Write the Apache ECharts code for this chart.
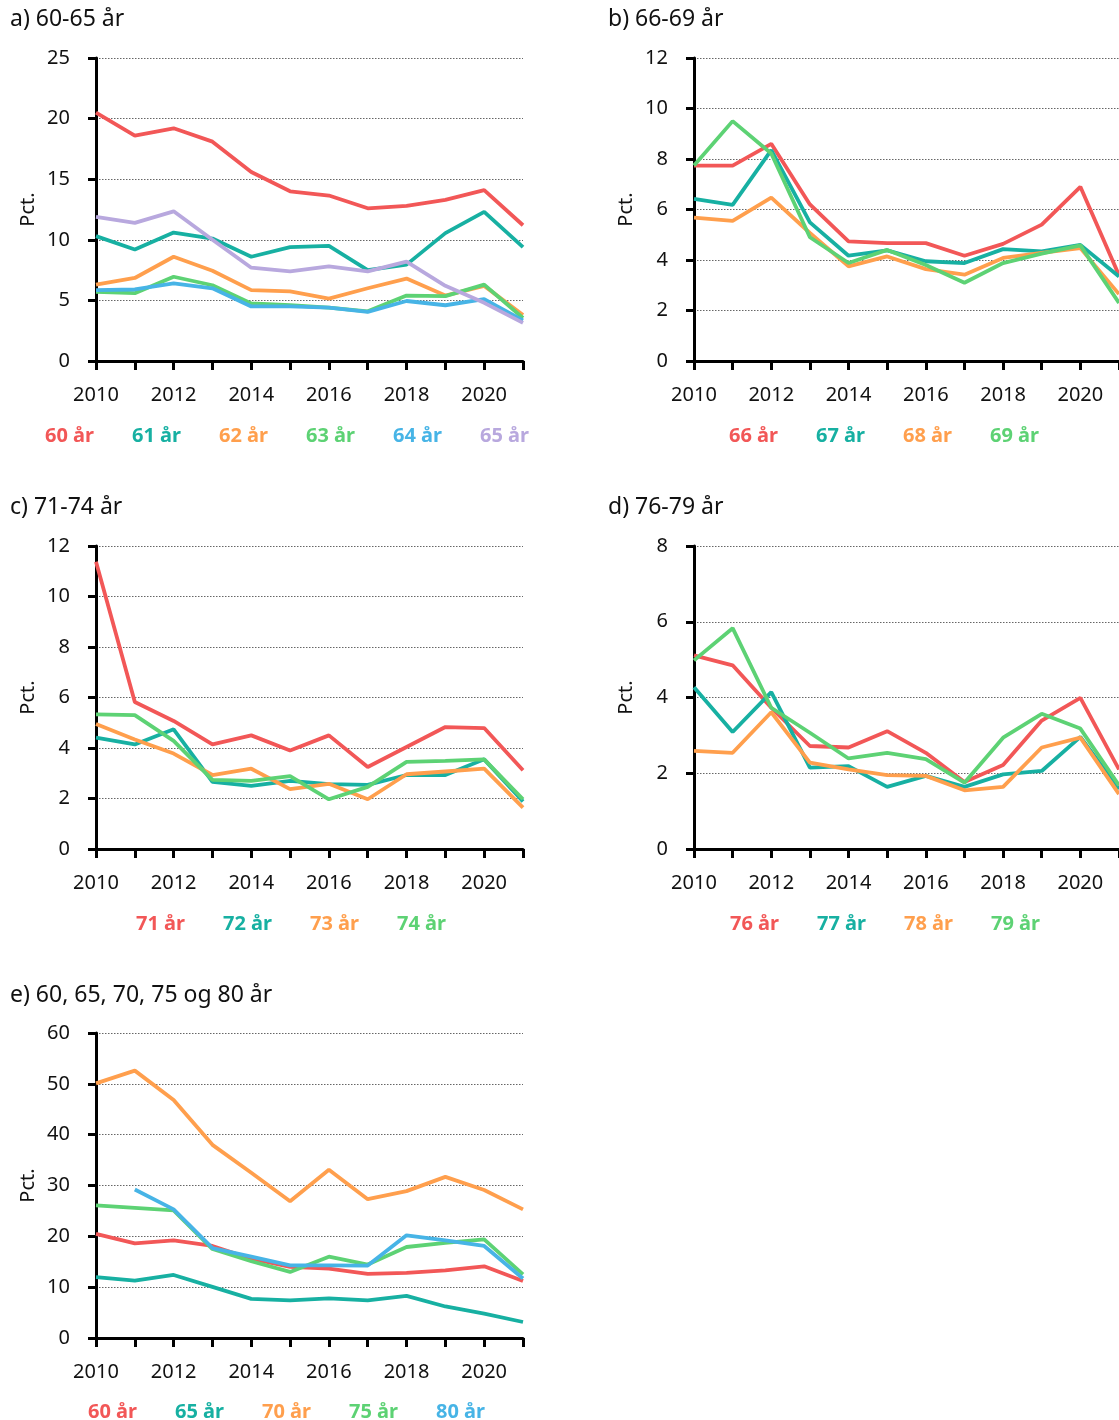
<!DOCTYPE html>
<html>
<head>
<meta charset="utf-8">
<script src="https://cdn.jsdelivr.net/npm/echarts@6/dist/echarts.min.js"></script>
<style>
html,body{margin:0;padding:0;background:#fff;}
#c{width:1119px;height:1420px;}
</style>
</head>
<body>
<div id="c"></div>
<script>
const years = ['2010','2011','2012','2013','2014','2015','2016','2017','2018','2019','2020','2021'];

// a) 60-65 år
const a60 = [20.5,18.6,19.2,18.1,15.6,14.0,13.65,12.6,12.8,13.3,14.1,11.2];
const a61 = [10.3,9.2,10.6,10.1,8.6,9.4,9.5,7.5,7.95,10.55,12.3,9.4];
const a62 = [6.3,6.85,8.6,7.45,5.85,5.75,5.15,6.0,6.8,5.4,6.2,3.8];
const a63 = [5.7,5.6,6.95,6.25,4.75,4.6,4.4,4.1,5.4,5.35,6.3,3.55];
const a64 = [5.85,5.9,6.4,6.0,4.5,4.5,4.4,4.05,4.95,4.6,5.1,3.35];
const a65 = [11.9,11.4,12.35,10.0,7.7,7.4,7.8,7.4,8.2,6.2,4.8,3.15];

// b) 66-69 år
const b66 = [7.74,7.74,8.6,6.2,4.74,4.67,4.67,4.17,4.64,5.4,6.9,3.4];
const b67 = [6.42,6.18,8.35,5.49,4.17,4.38,3.95,3.88,4.43,4.34,4.6,3.35];
const b68 = [5.68,5.55,6.47,5.07,3.75,4.14,3.64,3.42,4.08,4.28,4.47,2.65];
const b69 = [7.74,9.5,8.22,4.9,3.88,4.4,3.8,3.1,3.88,4.25,4.58,2.3];

// c) 71-74 år
const c71 = [11.38,5.82,5.07,4.14,4.5,3.9,4.5,3.25,4.04,4.83,4.79,3.12];
const c72 = [4.41,4.14,4.74,2.66,2.5,2.7,2.57,2.54,2.93,2.93,3.55,1.88];
const c73 = [4.95,4.34,3.78,2.93,3.18,2.37,2.58,1.97,2.96,3.07,3.18,1.64];
const c74 = [5.33,5.3,4.28,2.74,2.7,2.89,1.97,2.46,3.45,3.49,3.55,1.97];

// d) 76-79 år
const d76 = [5.11,4.85,3.73,2.72,2.68,3.11,2.54,1.77,2.22,3.39,3.99,2.1];
const d77 = [4.27,3.09,4.14,2.15,2.19,1.64,1.93,1.64,1.97,2.06,2.96,1.58];
const d78 = [2.59,2.54,3.61,2.28,2.1,1.95,1.93,1.55,1.64,2.68,2.94,1.45];
const d79 = [4.98,5.83,3.73,3.07,2.39,2.54,2.37,1.75,2.94,3.57,3.18,1.68];

// e) 60, 65, 70, 75 og 80 år
const e60 = a60;
const e65 = [11.96,11.3,12.4,10.05,7.7,7.4,7.8,7.4,8.3,6.2,4.8,3.15];
const e70 = [50.1,52.6,46.8,38.0,32.5,26.9,33.1,27.3,28.9,31.7,29.1,25.3];
const e75 = [26.1,25.6,25.1,17.5,15.1,13.0,16.0,14.45,17.9,18.7,19.4,12.5];
const e80 = [null,29.2,25.3,17.7,16.0,14.3,14.3,14.25,20.2,19.2,18.1,11.7];

const titles = ['a) 60-65 år','b) 66-69 år','c) 71-74 år','d) 76-79 år','e) 60, 65, 70, 75 og 80 år'];
const yMax = [25,12,12,8,60];
const yInt = [5,2,2,2,10];

const RED='#F25757', TEAL='#17B0A2', ORANGE='#FF9F4D', GREEN='#5DD274', BLUE='#47B4E6', LAV='#B8A8DE';

const panels = [
  {series:[['60 år',a60,RED],['61 år',a61,TEAL],['62 år',a62,ORANGE],['63 år',a63,GREEN],['64 år',a64,BLUE],['65 år',a65,LAV]]},
  {series:[['66 år',b66,RED],['67 år',b67,TEAL],['68 år',b68,ORANGE],['69 år',b69,GREEN]]},
  {series:[['71 år',c71,RED],['72 år',c72,TEAL],['73 år',c73,ORANGE],['74 år',c74,GREEN]]},
  {series:[['76 år',d76,RED],['77 år',d77,TEAL],['78 år',d78,ORANGE],['79 år',d79,GREEN]]},
  {series:[['60 år',e60,RED],['65 år',e65,TEAL],['70 år',e70,ORANGE],['75 år',e75,GREEN],['80 år',e80,BLUE]]}
];

// layout
const gridPos = [
  {left:96, top:58, width:427, height:303},
  {left:694, top:58, width:427, height:303},
  {left:96, top:546, width:427, height:303},
  {left:694, top:546, width:427, height:303},
  {left:96, top:1033, width:427, height:305}
];
const titlePos = [[5,3],[603,3],[5,491],[603,491],[5,979]];
const legendPos = [[35,421],[719,421],[126,909],[720,909],[78,1397]];

const FONT = '"Noto Sans", "Open Sans", sans-serif';

const option = {
  backgroundColor:'#fff',
  animation:false,
  title: titles.map((t,i)=>({text:t,left:titlePos[i][0],top:titlePos[i][1],
    textStyle:{fontFamily:FONT,fontSize:23,fontWeight:'normal',color:'#111'}})),
  grid: gridPos.map(g=>Object.assign({containLabel:false},g)),
  xAxis: gridPos.map((g,i)=>({
    gridIndex:i, type:'category', data:years, boundaryGap:false,
    axisLine:{lineStyle:{color:'#000',width:3}},
    axisTick:{show:true,interval:0,length:9,lineStyle:{color:'#000',width:3}},
    axisLabel:{interval:1,margin:24,fontFamily:FONT,fontSize:20,color:'#111'},
    splitLine:{show:false}
  })),
  yAxis: gridPos.map((g,i)=>({
    gridIndex:i, type:'value', min:0, max:yMax[i], interval:yInt[i],
    name:'Pct.', nameLocation:'middle', nameGap:58, nameRotate:90,
    nameTextStyle:{fontFamily:FONT,fontSize:20,color:'#111'},
    axisLine:{show:true,lineStyle:{color:'#000',width:3}},
    axisTick:{show:true,length:8,lineStyle:{color:'#000',width:3}},
    axisLabel:{margin:26,fontFamily:FONT,fontSize:20,color:'#111'},
    splitLine:{show:true,lineStyle:{color:'#666',width:1,type:[1.5,1.5]}}
  })),
  legend: panels.map((p,i)=>({
    left:legendPos[i][0], top:legendPos[i][1], orient:'horizontal',
    itemWidth:0, itemHeight:0, itemGap:33, selectedMode:false,
    data:p.series.map(s=>({name:s[0],icon:'rect',textStyle:{color:s[2]}})),
    textStyle:{fontFamily:FONT,fontSize:20,fontWeight:'bold'}
  })),
  series: []
};

panels.forEach((p,i)=>{
  p.series.forEach(s=>{
    option.series.push({
      type:'line', name:s[0], data:s[1], xAxisIndex:i, yAxisIndex:i,
      showSymbol:false, symbol:'none', connectNulls:false,
      lineStyle:{color:s[2],width:3.8}, itemStyle:{color:s[2]}
    });
  });
});

const chart = echarts.init(document.getElementById('c'), null, {renderer:'canvas'});
chart.setOption(option);
</script>
</body>
</html>
